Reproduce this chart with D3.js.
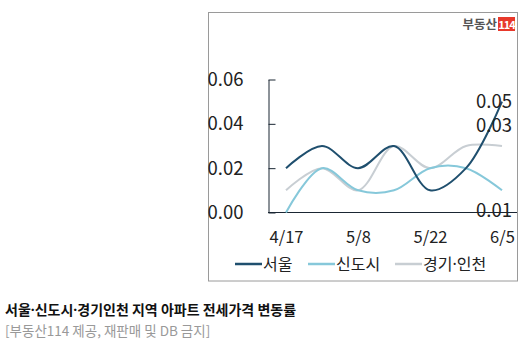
<!DOCTYPE html>
<html><head><meta charset="utf-8">
<script src="https://cdn.jsdelivr.net/npm/d3@7"></script>
<style>
html,body{margin:0;padding:0;background:#fff;}
svg{display:block;font-family:"Noto Sans CJK KR","Noto Sans",sans-serif;}
</style></head>
<body>
<svg id="c" width="529" height="353"></svg>
<script>
const categories = ["4/17","4/24","5/8","5/15","5/22","5/29","6/5"];
const tickLabels = ["4/17","5/8","5/22","6/5"];
const yTicks = [0, 0.02, 0.04, 0.06];
const seoul = [0.02, 0.03, 0.02, 0.03, 0.01, 0.02, 0.05];
const newTowns = [0.00, 0.02, 0.01, 0.01, 0.02, 0.02, 0.01];
const gyeonggi = [0.01, 0.02, 0.01, 0.03, 0.02, 0.03, 0.03];
const seriesNames = ["서울","신도시","경기·인천"];
const seriesColors = ["#1f4f6e","#86c8da","#c8ced3"];
const title = "서울·신도시·경기인천 지역 아파트 전세가격 변동률";
const subtitle = "[부동산114 제공, 재판매 및 DB 금지]";

const series = [seoul, newTowns, gyeonggi].map((v,i)=>({name:seriesNames[i], color:seriesColors[i], values:v}));

// write text, rendering the middle dot with a narrow Latin font
function richText(sel, str){
  str.split(/(·)/).forEach(part=>{
    if(!part) return;
    const t = sel.append("tspan").text(part);
    if(part==="·") t.attr("font-family","Noto Sans");
  });
  return sel;
}

const svg = d3.select("#c");
// frame
svg.append("rect").attr("x",208.5).attr("y",12.5).attr("width",309).attr("height",268.5)
  .attr("fill","#fff").attr("stroke","#9a9a9a").attr("stroke-width",1);

// logo
const logo = svg.append("g");
logo.append("text").attr("x",497).attr("y",29).attr("text-anchor","end")
  .attr("font-size",12.5).attr("font-weight",700).attr("fill","#555").text("부동산");
logo.append("rect").attr("x",498).attr("y",17).attr("width",17).attr("height",14).attr("fill","#e8392b");
logo.append("text").attr("x",506.5).attr("y",28.5).attr("text-anchor","middle")
  .attr("font-size",11).attr("font-weight",700).attr("fill","#fff").attr("letter-spacing",-1).text("114");

const x = d3.scalePoint().domain(categories).range([286, 502]);
const y = d3.scaleLinear().domain([0, 0.06]).range([212.5, 79.5]);

// y axis
const ya = svg.append("g").attr("transform","translate(268.5,0)")
  .call(d3.axisLeft(y).tickValues(yTicks).tickFormat(d3.format(".2f")).tickSizeInner(-7).tickSizeOuter(0).tickPadding(25));
ya.select(".domain").attr("stroke","#1a2633");
ya.selectAll(".tick line").attr("stroke","#1a2633");
ya.selectAll(".tick text").attr("font-size",18.5).attr("fill","#222").attr("font-family","Noto Sans CJK KR");

// x axis
const xa = svg.append("g").attr("transform","translate(0,212.5)")
  .call(d3.axisBottom(x).tickValues(tickLabels).tickSize(0).tickPadding(19));
xa.select(".domain").remove();
svg.append("line").attr("x1",268).attr("x2",517).attr("y1",212.5).attr("y2",212.5).attr("stroke","#1a2633");
xa.selectAll(".tick text").attr("font-size",16.5).attr("fill","#222").attr("font-family","Noto Sans CJK KR");

// lines
const line = d3.line().x((d,i)=>x(categories[i])).y(d=>y(d)).curve(d3.curveCatmullRom.alpha(0.5));
[2,1,0].forEach(k=>{
  const s = series[k];
  svg.append("path").attr("d", line(s.values)).attr("fill","none")
    .attr("stroke", s.color).attr("stroke-width",2);
});

// end labels
const last = categories[categories.length-1];
const labelOffsets = [0, 20, -20];
series.forEach((s,i)=>{
  const v = s.values[s.values.length-1];
  svg.append("text").attr("x", x(last)+10).attr("y", y(v)+labelOffsets[i])
    .attr("dy","0.35em").attr("text-anchor","end").attr("font-size",18.5).attr("fill","#222")
    .text(d3.format(".2f")(v));
});

// legend
const legendX = [235, 308, 395];
series.forEach((s,i)=>{
  const g = svg.append("g").attr("transform",`translate(${legendX[i]},264)`);
  g.append("line").attr("x1",0).attr("x2",27).attr("y1",0).attr("y2",0).attr("stroke",s.color).attr("stroke-width",2.5);
  richText(g.append("text").attr("x",28).attr("y",0).attr("dy","0.35em").attr("font-size",16).attr("fill","#222"), s.name);
});

// titles
richText(svg.append("text").attr("x",5).attr("y",315).attr("font-size",14).attr("font-weight",700).attr("fill","#111"), title);
svg.append("text").attr("x",5).attr("y",336).attr("font-size",13.5).attr("fill","#999").text(subtitle);
</script>
</body></html>
